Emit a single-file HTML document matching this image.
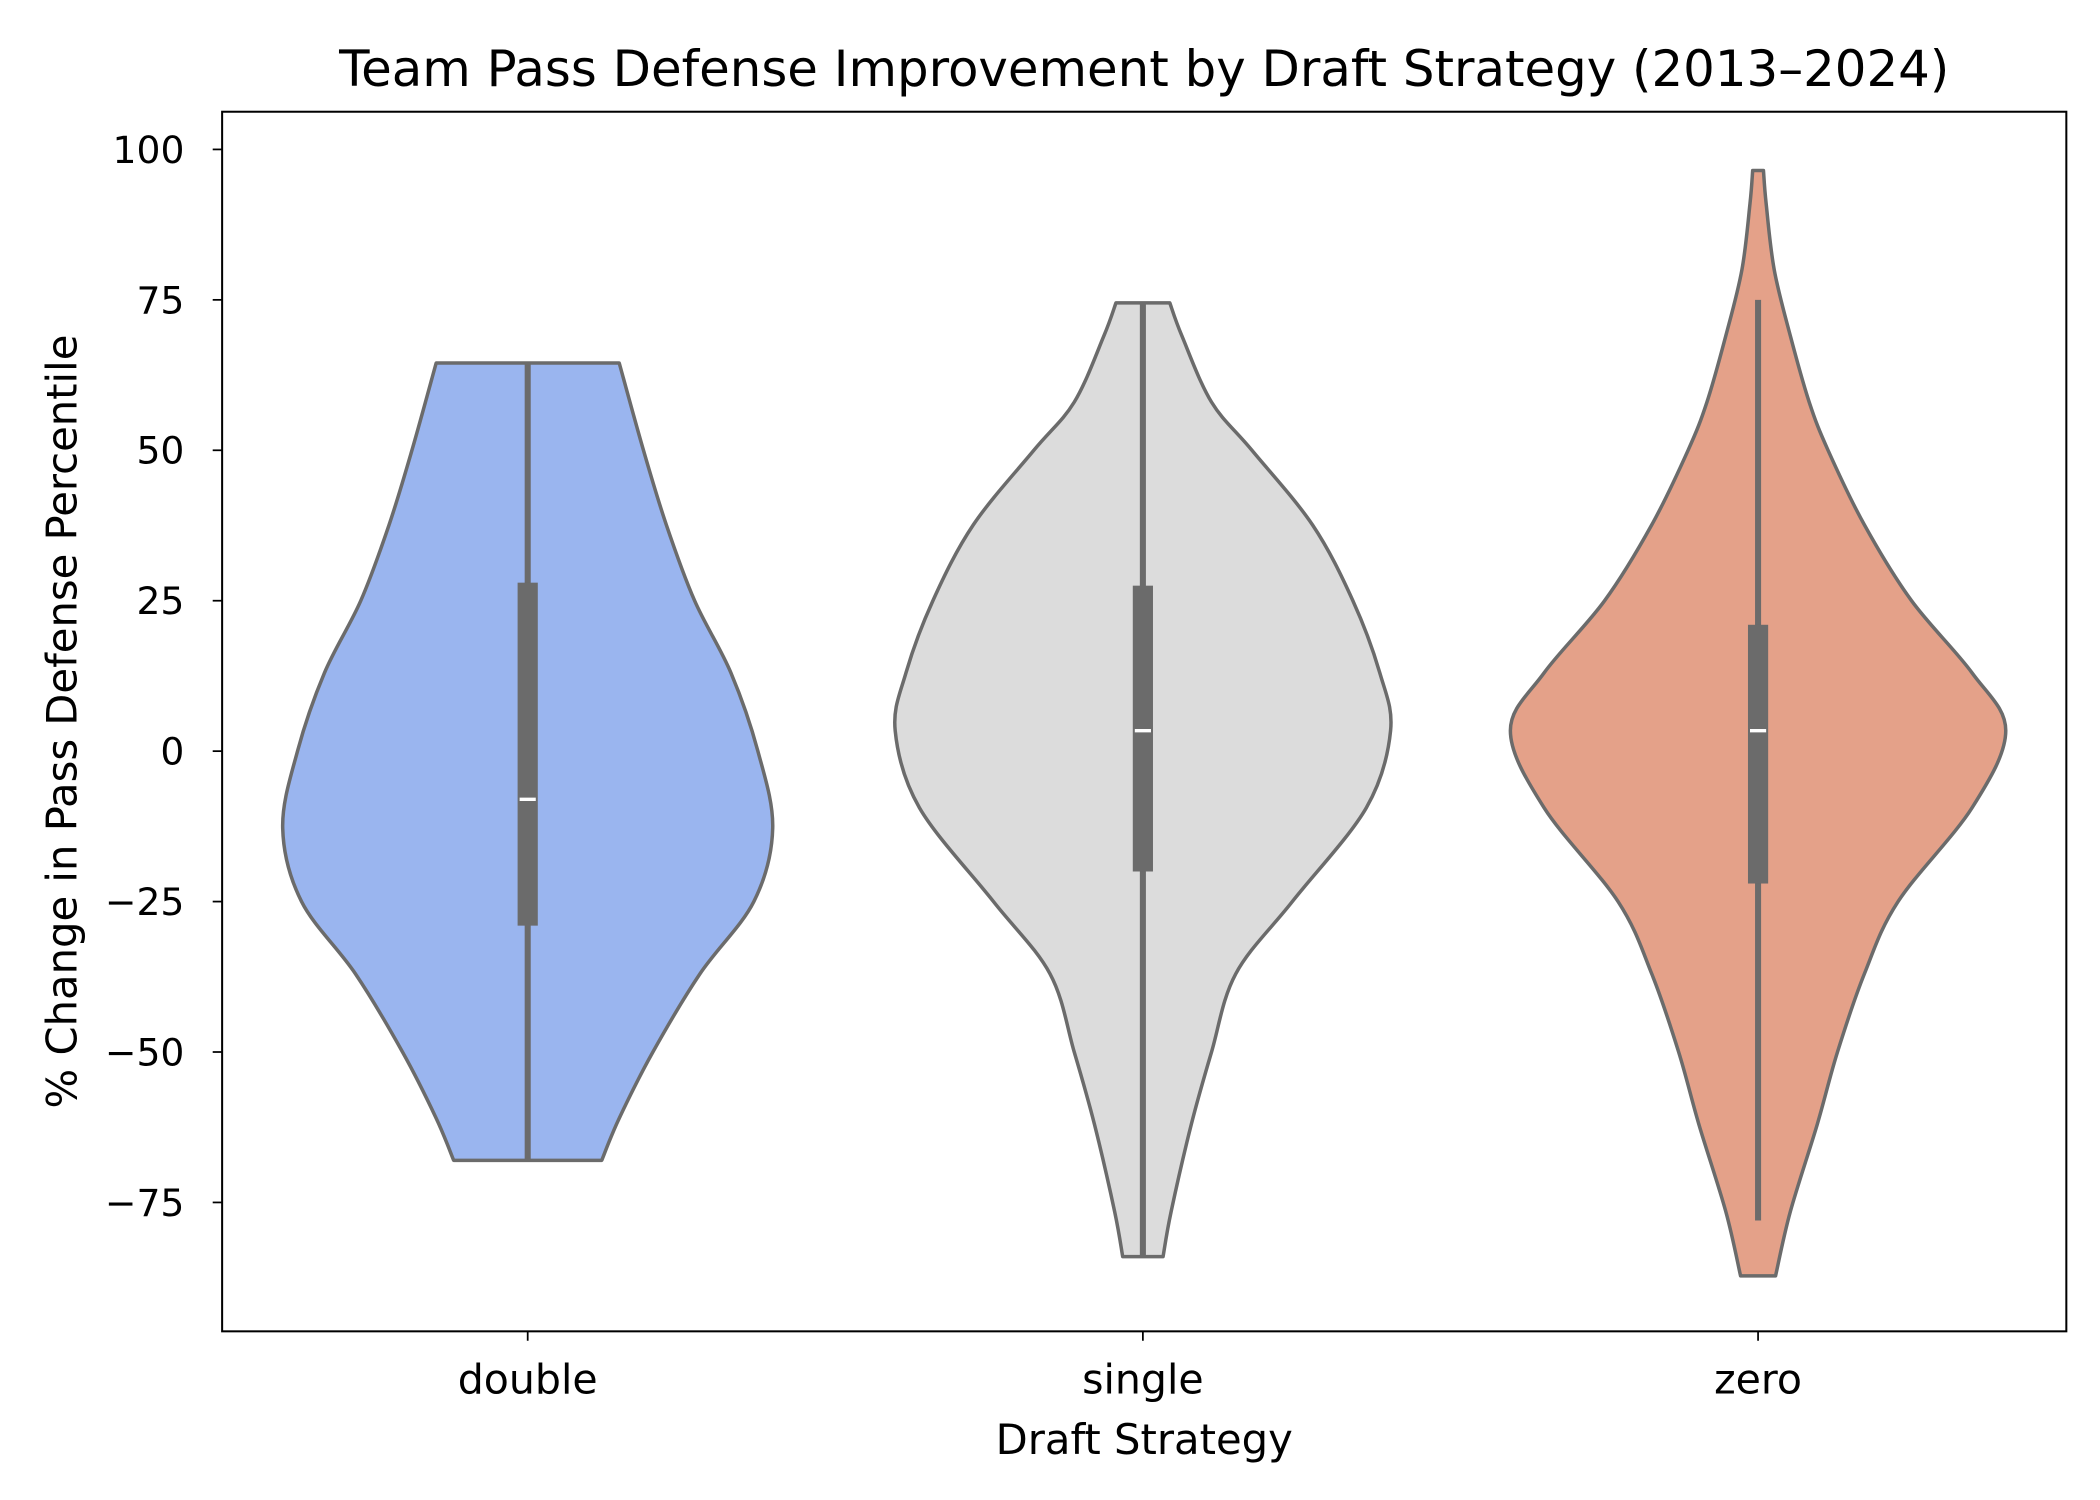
<!DOCTYPE html>
<html><head><meta charset="utf-8"><style>
html,body{margin:0;padding:0;background:#fff;}
svg{display:block;font-family:"DejaVu Sans","Liberation Sans",sans-serif;}
</style></head><body>
<svg id="chart" width="2100" height="1500" viewBox="0 0 1560 1114.3" xmlns="http://www.w3.org/2000/svg">
<rect width="1560" height="1114.3" fill="#fff"/>
<text x="850" y="64" font-size="37" text-anchor="middle" fill="#000">Team Pass Defense Improvement by Draft Strategy (2013–2024)</text>
<g id="plot"></g>
<rect x="165" y="83" width="1370" height="906" fill="none" stroke="#000" stroke-width="1.5"/>
<text x="850" y="1080" font-size="31" text-anchor="middle">Draft Strategy</text>
<text transform="translate(57,536) rotate(-90)" font-size="31" text-anchor="middle">% Change in Pass Defense Percentile</text>
</svg>
<script>
const categories = ["double","single","zero"];
const colors = ["#9ab5ef","#dcdcdc","#e4a189"];
const yTicks = [100,75,50,25,0,-25,-50,-75];
const yTickLabels = ["100","75","50","25","0","\u221225","\u221250","\u221275"];
const profileY = [
 [64.5,50,37.6,25,13,0,-12.8,-25,-37,-50,-61,-68],
 [74.5,69,58,50,37.6,25,13,3.4,-9.4,-25,-37,-50,-62,-76.5,-84],
 [96.5,91,80,69,58,50,37.6,25,13,3.4,-9.4,-25,-37,-50,-62,-76.5,-87.2]
];
const profileW = [
 [68,86,103,124,151,171,182,168,128,93,68,55],
 [20,29,51,81,126,156,176,184,166,111,69,51,36,21,15],
 [4,6,12,24,38,52,79,114,159,184,159,104,79,59,44,24,13]
];
const q1 = [-29,-20,-22];
const q3 = [28,27.5,21];
const medians = [-8,3.4,3.4];
const whiskLo = [-68,-84,-78];
const whiskHi = [64.5,74.5,75];

const L=165,R=1535,T=83,B=989;
const y = v => 558 - v*4.47;
const x = i => 392 + i*457;
const NS="http://www.w3.org/2000/svg";
const g=document.getElementById('plot');
function mk(t,a){const e=document.createElementNS(NS,t);for(const k in a)e.setAttribute(k,a[k]);return e;}
function smooth(pts){
 let d=`M${pts[0][0]},${pts[0][1]}`;
 for(let i=0;i<pts.length-1;i++){
  const p0=pts[Math.max(0,i-1)],p1=pts[i],p2=pts[i+1],p3=pts[Math.min(pts.length-1,i+2)];
  const c1=[p1[0]+(p2[0]-p0[0])/6,p1[1]+(p2[1]-p0[1])/6];
  const c2=[p2[0]-(p3[0]-p1[0])/6,p2[1]-(p3[1]-p1[1])/6];
  d+=` C${c1[0]},${c1[1]} ${c2[0]},${c2[1]} ${p2[0]},${p2[1]}`;
 }
 return d;
}
categories.forEach((c,i)=>{
 const cx=x(i);
 const right=profileY[i].map((v,j)=>[cx+profileW[i][j],y(v)]);
 const left=profileY[i].map((v,j)=>[cx-profileW[i][j],y(v)]).reverse();
 let d=smooth(right)+` L${left[0][0]},${left[0][1]} `+smooth(left).replace(/^M[^C]*/,'')+'Z';
 const p=mk('path',{d:d,fill:colors[i],stroke:'#6b6b6b','stroke-width':2.6,'stroke-linejoin':'round'});
 
 
 g.appendChild(p);
 const w=mk('line',{x1:cx,x2:cx,y1:y(whiskLo[i]),y2:y(whiskHi[i]),stroke:'#6b6b6b','stroke-width':4.5});
 
 
 g.appendChild(w);
 const b=mk('rect',{x:cx-7.5,y:y(q3[i]),width:15,height:y(q1[i])-y(q3[i]),fill:'#6b6b6b'});
 
 
 g.appendChild(b);
 const m=mk('line',{x1:cx-6,x2:cx+6,y1:y(medians[i]),y2:y(medians[i]),stroke:'#fff','stroke-width':2.5});
 
 
 g.appendChild(m);
 const t=mk('line',{x1:cx,x2:cx,y1:B,y2:B+7,stroke:'#000','stroke-width':1.3});
 
 
 g.appendChild(t);
 const lb=mk('text',{x:cx,y:B+46,'font-size':30.5,'text-anchor':'middle'});
 lb.textContent=c;
 
 
 g.appendChild(lb);
});
yTicks.forEach((v,i)=>{
 const t=mk('line',{x1:L-7,x2:L,y1:y(v),y2:y(v),stroke:'#000','stroke-width':1.3});
 
 
 g.appendChild(t);
 const lb=mk('text',{x:L-28,y:y(v)+10,'font-size':28,'text-anchor':'end'});
 lb.textContent=yTickLabels[i];
 
 
 g.appendChild(lb);
});
</script>
</body></html>
